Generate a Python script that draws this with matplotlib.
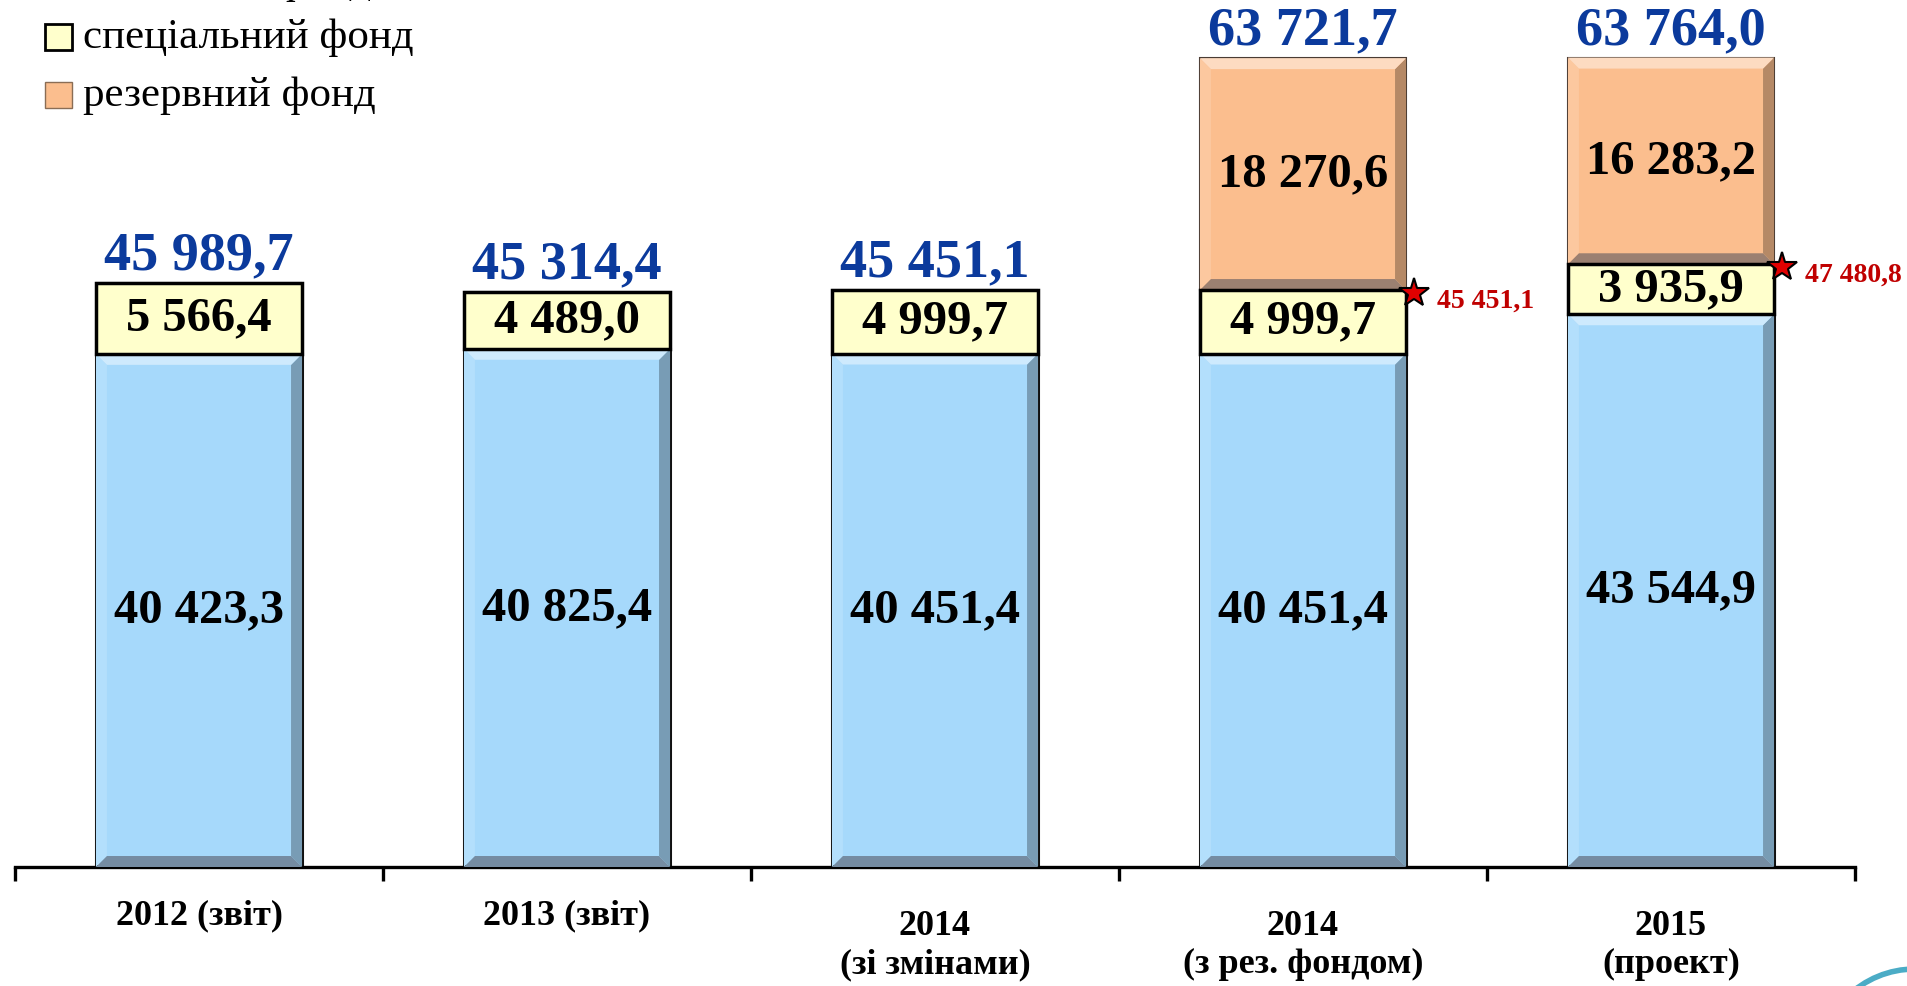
import matplotlib
matplotlib.use('Agg')
import matplotlib.pyplot as plt
from matplotlib.patches import Polygon, Rectangle, Circle
from matplotlib.transforms import IdentityTransform
import matplotlib.colors as mcolors

# ---------------- data ----------------
categories = ['2012 (звіт)', '2013 (звіт)', '2014\n(зі змінами)',
              '2014\n(з рез. фондом)', '2015\n(проект)']
general = [40423.3, 40825.4, 40451.4, 40451.4, 43544.9]
special = [5566.4, 4489.0, 4999.7, 4999.7, 3935.9]
reserve = [0.0, 0.0, 0.0, 18270.6, 16283.2]
legend_labels = ['загальний фонд', 'спеціальний фонд', 'резервний фонд']

# ---------------- style ----------------
C_GEN = '#A6D9FB'
C_SPEC = '#FFFFCC'
C_RES = '#FBBE8E'
C_TOTAL = '#0B3A9C'
C_STAR = '#C00000'
SERIF = ['Liberation Serif', 'DejaVu Serif']

W, H = 1908, 986
fig = plt.figure(figsize=(W / 100, H / 100), dpi=100)
ax_bottom_px = 867
ax = fig.add_axes([15 / W, (H - ax_bottom_px) / H, 1840 / W, ax_bottom_px / H])
YMAX = 68300
ax.set_xlim(-0.5, 4.5)
ax.set_ylim(0, YMAX)

px_x = 5 / 1840             # data units per pixel (x)
px_y = YMAX / ax_bottom_px  # data units per pixel (y)


def fmt(v):
    return f"{v:,.1f}".replace(',', ' ').replace('.', ',')


def mix(c, t, a):
    return tuple(ci * (1 - a) + ti * a for ci, ti in zip(c, t))


def bevel(x0, x1, y0, y1, color, bw=11):
    base = mcolors.to_rgb(color)
    bx = bw * px_x
    by = min(bw * px_y, (y1 - y0) * 0.3)
    top = [(x0, y1), (x1, y1), (x1 - bx, y1 - by), (x0 + bx, y1 - by)]
    bot = [(x0, y0), (x1, y0), (x1 - bx, y0 + by), (x0 + bx, y0 + by)]
    left = [(x0, y0), (x0, y1), (x0 + bx, y1 - by), (x0 + bx, y0 + by)]
    right = [(x1, y0), (x1, y1), (x1 - bx, y1 - by), (x1 - bx, y0 + by)]
    for poly, col in ((left, mix(base, (1, 1, 1), 0.15)),
                      (right, mix(base, (0, 0, 0), 0.28)),
                      (top, mix(base, (1, 1, 1), 0.45)),
                      (bot, mix(base, (0.3, 0.3, 0.35), 0.55))):
        ax.add_patch(Polygon(poly, closed=True, facecolor=col,
                             edgecolor='none', zorder=3))


x = list(range(len(categories)))
bw_data = 0.56

b1 = ax.bar(x, general, width=bw_data, color=C_GEN, edgecolor='#111111',
            linewidth=2.2, zorder=2)
bottom2 = general
b2 = ax.bar(x, special, width=bw_data, bottom=bottom2, color=C_SPEC,
            edgecolor='black', linewidth=2.5, zorder=4)
bottom3 = [g + s for g, s in zip(general, special)]
b3 = ax.bar(x, reserve, width=bw_data, bottom=bottom3, color=C_RES,
            edgecolor='#4a3c34', linewidth=1.5, zorder=2)

for bars in (b1, b3):
    for p in bars:
        if p.get_height() <= 0:
            continue
        x0, y0 = p.get_x(), p.get_y()
        bevel(x0, x0 + p.get_width(), y0, y0 + p.get_height(), p.get_facecolor())

# segment labels
lab_kw = dict(ha='center', va='center', fontsize=35, fontweight='bold',
              family=SERIF, color='black', zorder=6)
for xi, g, s, r, b in zip(x, general, special, reserve, bottom3):
    ax.text(xi, g / 2, fmt(g), **lab_kw)
    ax.text(xi, g + s / 2, fmt(s), **lab_kw)
    if r > 0:
        ax.text(xi, b + r / 2, fmt(r), **lab_kw)

# totals
totals = [g + s + r for g, s, r in zip(general, special, reserve)]
for xi, t in zip(x, totals):
    ax.annotate(fmt(t), (xi, t), xytext=(0, 1), textcoords='offset points',
                ha='center', va='bottom', fontsize=39, fontweight='bold',
                family=SERIF, color=C_TOTAL, zorder=6, annotation_clip=False)

# stars for bars with reserve fund
for xi, b, r in zip(x, bottom3, reserve):
    if r <= 0:
        continue
    xr = xi + bw_data / 2
    ax.plot([xr + 8 * px_x], [b - 3 * px_y], marker='*', markersize=22,
            markerfacecolor='#E00000', markeredgecolor='black',
            markeredgewidth=1.5, zorder=8, clip_on=False, linestyle='none')
    ax.annotate(fmt(b), (xr, b), xytext=(22, -8), textcoords='offset points',
                ha='left', va='center', fontsize=20, fontweight='bold',
                family=SERIF, color=C_STAR, zorder=8, annotation_clip=False)

# axis styling
for side in ('top', 'right', 'left'):
    ax.spines[side].set_visible(False)
ax.spines['bottom'].set_linewidth(2.4)
ax.set_yticks([])
ax.set_xticks([i - 0.5 for i in range(len(categories) + 1)])
ax.set_xticklabels([])
ax.tick_params(axis='x', direction='out', length=10, width=2.4, color='black')
for xi, c in zip(x, categories):
    off = 43 if '\n' in c else 32
    ax.text(xi, -off * px_y, c, ha='center', va='top', fontsize=26,
            fontweight='bold', family=SERIF, color='black',
            linespacing=1.2, clip_on=False)

# legend (manual, top-left, first line cut by figure edge)
leg_colors = [C_GEN, C_SPEC, C_RES]
leg_centers = [-18, 37, 95]
for lab, col, cy in zip(legend_labels, leg_colors, leg_centers):
    fig.patches.append(Rectangle((45 / W, (H - cy - 13) / H), 27 / W, 26 / H,
                                 transform=fig.transFigure, facecolor=col,
                                 edgecolor='black' if col == C_SPEC else '#8a6d55',
                                 linewidth=2 if col == C_SPEC else 1))
    fig.text(83 / W, (H - cy - 11) / H, lab, ha='left', va='baseline',
             fontsize=31, family=SERIF, color='black')

# decorative arc bottom-right (pixel coordinates)
fig.patches.append(Circle((1915, H - 1066), 97, transform=IdentityTransform(),
                          facecolor='none', edgecolor='#4BACC6', linewidth=4))

fig.savefig('out.png', dpi=100)
